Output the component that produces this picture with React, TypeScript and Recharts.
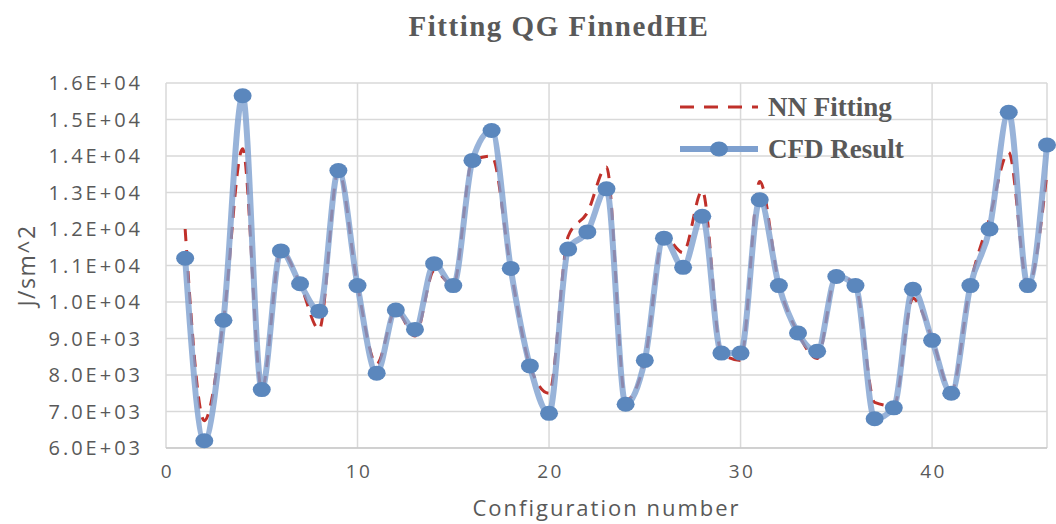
import { LineChart, Line, XAxis, YAxis, CartesianGrid } from "recharts";

// configuration numbers 1..46
const configs = [
  1, 2, 3, 4, 5, 6, 7, 8, 9, 10, 11, 12, 13, 14, 15, 16, 17, 18, 19, 20, 21, 22, 23,
  24, 25, 26, 27, 28, 29, 30, 31, 32, 33, 34, 35, 36, 37, 38, 39, 40, 41, 42, 43, 44, 45, 46,
];

const cfdResult = [
  11200, 6200, 9500, 15650, 7600, 11400, 10500, 9750, 13600, 10450, 8050, 9780, 9250,
  11050, 10450, 13880, 14700, 10920, 8250, 6950, 11450, 11920, 13100, 7200, 8400, 11750,
  10950, 12350, 8600, 8600, 12800, 10450, 9150, 8650, 10700, 10450, 6800, 7100, 10350,
  8950, 7500, 10450, 12000, 15200, 10450, 14300,
];

const nnFitting = [
  12000, 6750, 9500, 14200, 7600, 11400, 10500, 9250, 13600, 10450, 8300, 9780, 9070,
  10850, 10450, 13880, 14000, 10900, 8250, 7500, 11800, 12450, 13700, 7300, 8400, 11800,
  11350, 13050, 8600, 8400, 13300, 10500, 9150, 8450, 10750, 10450, 7250, 7150, 10100,
  9000, 7550, 10500, 12300, 14100, 10450, 13550,
];

const xTicks = [0, 10, 20, 30, 40];
const yTicks = [6000, 7000, 8000, 9000, 10000, 11000, 12000, 13000, 14000, 15000, 16000];

const data = configs.map((c, i) => ({ config: c, cfd: cfdResult[i], nn: nnFitting[i] }));

const sci = (v: number) => {
  const e = Math.floor(Math.log10(v));
  const m = (v / Math.pow(10, e)).toFixed(1);
  return `${m}E+${String(e).padStart(2, "0")}`;
};

const textColor = "#595959";
const serif = "'Liberation Serif', 'DejaVu Serif', serif";
const sans = "'Open Sans', 'Noto Sans', sans-serif";

const YTick = (props: any) => (
  <text
    x={props.x}
    y={props.y}
    dy={7}
    textAnchor="end"
    fill={textColor}
    fontSize={20}
    fontFamily={sans}
    style={{ letterSpacing: "3px" }}
  >
    {sci(props.payload.value)}
  </text>
);

const XTick = (props: any) => (
  <text
    x={props.x + 1.5}
    y={props.y}
    dy={14}
    textAnchor="middle"
    fill={textColor}
    fontSize={19}
    fontFamily={sans}
    style={{ letterSpacing: "2.5px" }}
  >
    {props.payload.value}
  </text>
);

const CfdDot = (props: any) => (
  <ellipse key={props.index} cx={props.cx} cy={props.cy} rx={9} ry={7.5} fill="#5b87bd" />
);

const LegendBox = () => (
  <div
    style={{
      position: "absolute",
      left: 678,
      top: 86,
      fontFamily: serif,
      fontWeight: "bold",
      fontSize: 27,
      color: textColor,
      lineHeight: "42px",
    }}
  >
    <div style={{ display: "flex", alignItems: "center", height: 42 }}>
      <svg width={82} height={20}>
        <line x1={2} y1={10} x2={80} y2={10} stroke="#c0302a" strokeWidth={3} strokeDasharray="14 10" />
      </svg>
      <span style={{ marginLeft: 8 }}>NN Fitting</span>
    </div>
    <div style={{ display: "flex", alignItems: "center", height: 42 }}>
      <svg width={82} height={20}>
        <line x1={2} y1={10} x2={80} y2={10} stroke="#7ea0cf" strokeWidth={6} />
        <ellipse cx={41} cy={10} rx={9} ry={7.5} fill="#5b87bd" />
      </svg>
      <span style={{ marginLeft: 8 }}>CFD Result</span>
    </div>
  </div>
);

export default function App() {
  return (
    <div style={{ position: "absolute", left: 0, top: 0, width: 1056, height: 524, background: "#fff" }}>
      <div
        style={{
          position: "absolute",
          top: 10,
          left: 0,
          width: 1118,
          textAlign: "center",
          fontFamily: serif,
          fontWeight: "bold",
          fontSize: 29,
          letterSpacing: 1.5,
          color: textColor,
        }}
      >
        Fitting QG FinnedHE
      </div>
      <LineChart
        width={1056}
        height={524}
        data={data}
        margin={{ top: 83, right: 9, left: 8, bottom: 0 }}
      >
        <CartesianGrid stroke="#d9d9d9" strokeWidth={1.5} />
        <XAxis
          dataKey="config"
          type="number"
          domain={[0, 46]}
          ticks={xTicks}
          tickLine={false}
          tickSize={0}
          tickMargin={16}
          height={76}
          stroke="#bfbfbf"
          tick={<XTick />}
          label={{
            value: "Configuration number",
            position: "insideBottom",
            offset: 8,
            fill: textColor,
            fontSize: 22,
            fontFamily: sans,
            letterSpacing: 2,
          }}
        />
        <YAxis
          type="number"
          domain={[6000, 16000]}
          ticks={yTicks}
          axisLine={false}
          tickLine={false}
          tickSize={0}
          tickMargin={23}
          width={158}
          tick={<YTick />}
          label={{
            value: "J/sm^2",
            angle: -90,
            position: "insideLeft",
            offset: 19,
            fill: textColor,
            fontSize: 23,
            fontFamily: sans,
            letterSpacing: 1.5,
            style: { textAnchor: "middle" },
          }}
        />
        <Line
          dataKey="nn"
          name="NN Fitting"
          type="monotone"
          stroke="#c0302a"
          strokeWidth={3}
          strokeDasharray="12 9"
          dot={false}
          activeDot={false}
          isAnimationActive={false}
        />
        <Line
          dataKey="cfd"
          name="CFD Result"
          type="monotone"
          stroke="#7ea0cf"
          strokeOpacity={0.8}
          strokeWidth={6}
          dot={<CfdDot />}
          activeDot={false}
          isAnimationActive={false}
        />
      </LineChart>
      <LegendBox />
    </div>
  );
}
